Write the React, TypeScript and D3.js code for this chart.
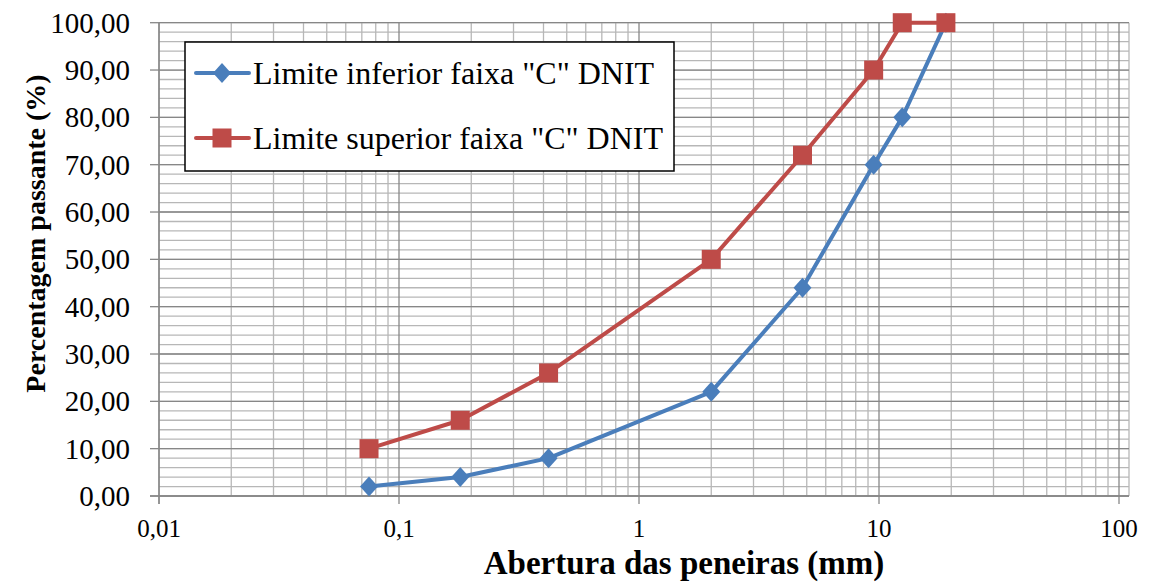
import * as d3 from "d3";

// sieve openings (mm) and limits of DNIT band "C"
const sieveSizes = [0.075, 0.18, 0.42, 2, 4.8, 9.5, 12.5, 19];
const lowerLimit = [2, 4, 8, 22, 44, 70, 80, 100];
const upperLimit = [10, 16, 26, 50, 72, 90, 100, 100];

const xTicks = [0.01, 0.1, 1, 10, 100];
const yTicks = [0, 10, 20, 30, 40, 50, 60, 70, 80, 90, 100];
const yMinorTicks = d3.range(0, 101, 2);

const seriesNames = ['Limite inferior faixa "C" DNIT', 'Limite superior faixa "C" DNIT'];

const W = 1149;
const H = 582;
const FONT = '"Liberation Serif", "Times New Roman", "DejaVu Serif", serif';
const BLUE = "#4a7ebb";
const RED = "#be4b48";

const fmtX = (d: number) => String(d).replace(".", ",");
const fmtY = (d: number) => d.toFixed(2).replace(".", ",");

export default function App() {
  const left = 159;
  const right = 1119;
  const plotRight = 1129; // plot area runs a little past 100
  const top = 22.7;
  const bottom = 496;

  const x = d3.scaleLog().domain([0.01, 100]).range([left, right]);
  const y = d3.scaleLinear().domain([0, 100]).range([bottom, top]);

  // minor vertical grid: 2..9 in each decade
  const xMinor: number[] = [];
  for (let e = -2; e < 2; e++) {
    for (let k = 2; k <= 9; k++) xMinor.push(k * Math.pow(10, e));
  }

  const line = d3
    .line<number>()
    .x((_, i) => x(sieveSizes[i]))
    .y((d) => y(d));

  const diamond = (cx: number, cy: number, r: number) =>
    `M${cx},${cy - r}L${cx + r * 0.9},${cy}L${cx},${cy + r}L${cx - r * 0.9},${cy}Z`;

  const legendX = 185;
  const legendY = 42;
  const legendW = 489;
  const legendH = 129;
  const rows = [73, 138];

  return (
    <svg
      width={W}
      height={H}
      style={{ position: "absolute", left: 0, top: 0, background: "#fff", fontFamily: FONT }}
    >
      {/* minor grid */}
      <g stroke="#b7b7b7" strokeWidth={1.3}>
        {yMinorTicks.map((t) => (
          <line key={"ym" + t} x1={left} x2={plotRight} y1={y(t)} y2={y(t)} />
        ))}
        {xMinor.map((t) => (
          <line key={"xm" + t} x1={x(t)} x2={x(t)} y1={top} y2={bottom} />
        ))}
        <line x1={plotRight} x2={plotRight} y1={top} y2={bottom} />
      </g>
      {/* major grid */}
      <g stroke="#878787" strokeWidth={1.3}>
        {yTicks.map((t) => (
          <line key={"y" + t} x1={left} x2={plotRight} y1={y(t)} y2={y(t)} />
        ))}
        {xTicks.map((t) => (
          <line key={"x" + t} x1={x(t)} x2={x(t)} y1={top} y2={bottom} />
        ))}
      </g>
      {/* axes */}
      <g stroke="#878787" strokeWidth={1.3}>
        <line x1={left} x2={left} y1={top} y2={bottom + 8} />
        <line x1={left - 9} x2={plotRight} y1={bottom} y2={bottom} />
        {yTicks.map((t) => (
          <line key={"yt" + t} x1={left - 9} x2={left} y1={y(t)} y2={y(t)} />
        ))}
        {xTicks.map((t) => (
          <line key={"xt" + t} x1={x(t)} x2={x(t)} y1={bottom} y2={bottom + 8} />
        ))}
      </g>
      <g fontSize={29} textAnchor="end" fill="#000">
        {yTicks.map((t) => (
          <text key={"yl" + t} x={130} y={y(t) + 10} style={{ fontFamily: FONT }}>
            {fmtY(t)}
          </text>
        ))}
      </g>
      <g fontSize={25} textAnchor="middle" fill="#000">
        {xTicks.map((t) => (
          <text key={"xl" + t} x={x(t)} y={537} style={{ fontFamily: FONT }}>
            {fmtX(t)}
          </text>
        ))}
      </g>
      <text
        x={684}
        y={574}
        fontSize={33}
        fontWeight="bold"
        textAnchor="middle"
        style={{ fontFamily: FONT }}
      >
        Abertura das peneiras (mm)
      </text>
      <text
        transform={`translate(45,${233.5}) rotate(-90)`}
        fontSize={28}
        fontWeight="bold"
        textAnchor="middle"
        style={{ fontFamily: FONT }}
      >
        Percentagem passante (%)
      </text>

      {/* series */}
      <path d={line(lowerLimit) ?? ""} fill="none" stroke={BLUE} strokeWidth={4} strokeLinejoin="round" />
      <path d={line(upperLimit) ?? ""} fill="none" stroke={RED} strokeWidth={4} strokeLinejoin="round" />
      {lowerLimit.map((v, i) => (
        <path key={"d" + i} d={diamond(x(sieveSizes[i]), y(v), 10)} fill={BLUE} />
      ))}
      {upperLimit.map((v, i) => (
        <rect
          key={"s" + i}
          x={x(sieveSizes[i]) - 9.5}
          y={y(v) - 9.5}
          width={19}
          height={19}
          fill={RED}
        />
      ))}

      {/* legend */}
      <rect x={legendX} y={legendY} width={legendW} height={legendH} fill="#fff" stroke="#000" strokeWidth={1.5} />
      {seriesNames.map((name, i) => {
        const c = i === 0 ? BLUE : RED;
        const cy = rows[i];
        return (
          <g key={name}>
            <line x1={196} x2={249} y1={cy} y2={cy} stroke={c} strokeWidth={4} strokeLinecap="round" />
            {i === 0 ? (
              <path d={diamond(222, cy, 10)} fill={c} />
            ) : (
              <rect x={212.5} y={cy - 9.5} width={19} height={19} fill={c} />
            )}
            <text x={253} y={cy + 11} fontSize={32} fill="#000" style={{ fontFamily: FONT }}>
              {name}
            </text>
          </g>
        );
      })}
    </svg>
  );
}
